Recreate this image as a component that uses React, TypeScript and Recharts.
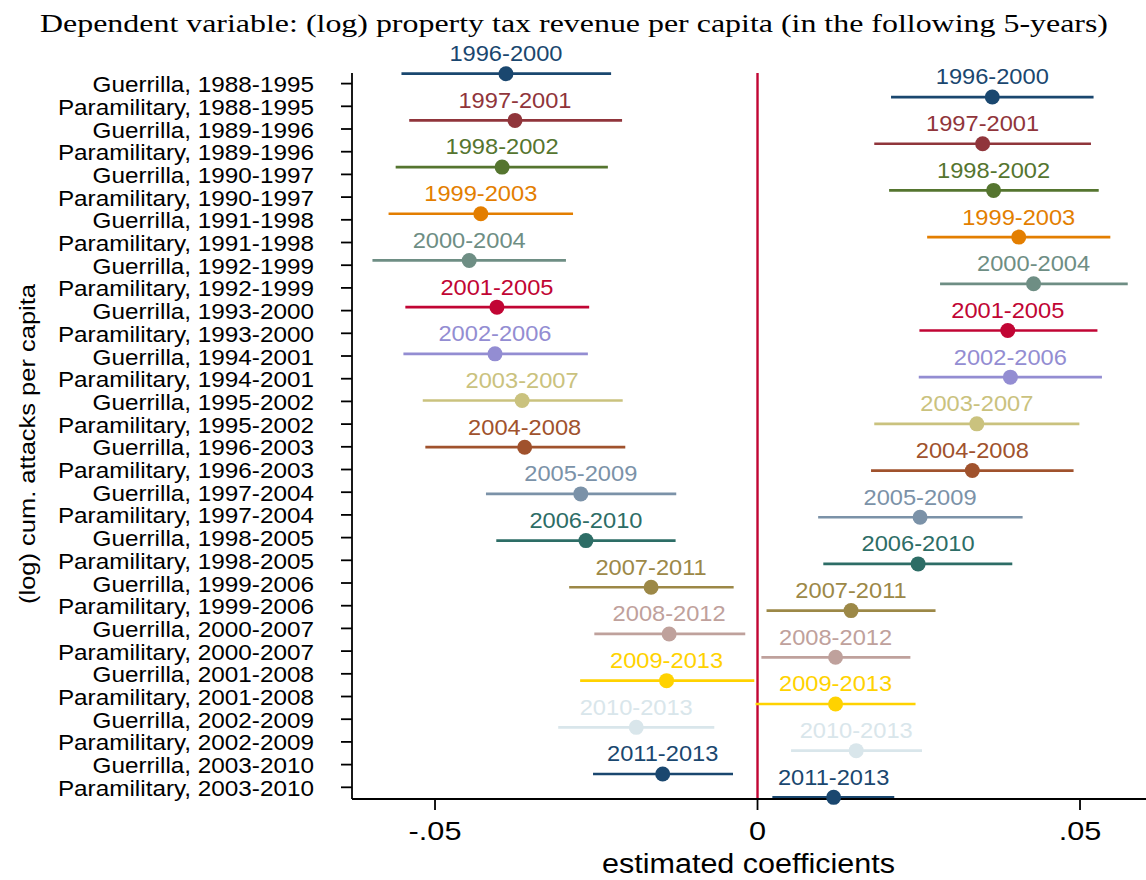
import React from 'react';
import { ScatterChart, Scatter, XAxis, YAxis, ReferenceLine, ErrorBar } from 'recharts';

// Estimation periods (one coefplot series each) and their colours
const estimationPeriods = [
  '1996-2000', '1997-2001', '1998-2002', '1999-2003', '2000-2004', '2001-2005',
  '2002-2006', '2003-2007', '2004-2008', '2005-2009', '2006-2010', '2007-2011',
  '2008-2012', '2009-2013', '2010-2013', '2011-2013',
];
const seriesColors = [
  '#1a476f', '#90353b', '#55752f', '#e37e00', '#6e8e84', '#c10534',
  '#938dd2', '#cac27e', '#a0522d', '#7b92a8', '#2d6d66', '#9c8847',
  '#bfa19c', '#ffd200', '#d9e6eb', '#1a476f',
];

// Guerrilla coefficients with 95% CI
const guerrillaCoef = [-0.0390, -0.0376, -0.0396, -0.0429, -0.0447, -0.0404, -0.0407, -0.0365, -0.0361, -0.0274, -0.0266, -0.0165, -0.0137, -0.0141, -0.0188, -0.0147];
const guerrillaLow = [-0.0552, -0.0540, -0.0561, -0.0572, -0.0597, -0.0546, -0.0549, -0.0519, -0.0515, -0.0421, -0.0405, -0.0292, -0.0253, -0.0275, -0.0309, -0.0255];
const guerrillaHigh = [-0.0227, -0.0210, -0.0232, -0.0286, -0.0297, -0.0261, -0.0263, -0.0209, -0.0205, -0.0126, -0.0127, -0.0037, -0.0019, -0.0005, -0.0067, -0.0038];

// Paramilitary coefficients with 95% CI
const paraCoef = [0.0364, 0.0349, 0.0366, 0.0405, 0.0428, 0.0388, 0.0392, 0.0340, 0.0333, 0.0252, 0.0249, 0.0145, 0.0121, 0.0121, 0.0153, 0.0118];
const paraLow = [0.0207, 0.0181, 0.0204, 0.0263, 0.0283, 0.0251, 0.0250, 0.0181, 0.0176, 0.0094, 0.0102, 0.0014, 0.0006, -0.0003, 0.0052, 0.0023];
const paraHigh = [0.0521, 0.0517, 0.0529, 0.0547, 0.0574, 0.0527, 0.0534, 0.0499, 0.0490, 0.0411, 0.0395, 0.0276, 0.0237, 0.0245, 0.0255, 0.0212];

// Attack periods (y-axis categories)
const attackPeriods = [
  '1988-1995', '1989-1996', '1990-1997', '1991-1998', '1992-1999', '1993-2000',
  '1994-2001', '1995-2002', '1996-2003', '1997-2004', '1998-2005', '1999-2006',
  '2000-2007', '2001-2008', '2002-2009', '2003-2010',
];
const yTickLabels = attackPeriods.flatMap((p) => [`Guerrilla, ${p}`, `Paramilitary, ${p}`]);

const xTicks = [-0.05, 0, 0.05];
const xTickLabels = ['-.05', '0', '.05'];

const titleText = 'Dependent variable: (log) property tax revenue per capita (in the following 5-years)';
const xTitle = 'estimated coefficients';
const yTitle = '(log) cum. attacks per capita';

const SANS = '"Liberation Sans", Arial, Helvetica, sans-serif';
const SERIF = '"Liberation Serif", "Times New Roman", serif';

const seriesData = estimationPeriods.map((period, k) => ({
  period,
  color: seriesColors[k],
  points: [
    { x: guerrillaCoef[k], y: 2 * k, err: [guerrillaCoef[k] - guerrillaLow[k], guerrillaHigh[k] - guerrillaCoef[k]] },
    { x: paraCoef[k], y: 2 * k + 1, err: [paraCoef[k] - paraLow[k], paraHigh[k] - paraCoef[k]] },
  ],
}));

const labelRows = yTickLabels.map((_, i) => ({ x: 0, y: i }));
const labelTicks = yTickLabels.map((_, i) => i);

const makeShape = (color: string, period: string) => (props: any) => {
  const cx = props.cx ?? props.x + (props.width || 0) / 2;
  const cy = props.cy ?? props.y + (props.height || 0) / 2;
  return (
    <g>
      <circle cx={cx} cy={cy} r={7.5} fill={color} />
      <text
        x={cx}
        y={cy - 12.6}
        textAnchor="middle"
        fontFamily={SANS}
        fontSize={21.5}
        fill={color}
        transform={`translate(${cx},0) scale(1.1,1) translate(${-cx},0)`}
      >
        {period}
      </text>
    </g>
  );
};

const YTick = (props: any) => {
  const { x, y, payload } = props;
  return (
    <g transform={`translate(${x},${y})`}>
      <text textAnchor="end" y={8.5} fontFamily={SANS} fontSize={21.5} fill="#000" transform="scale(1.13,1)">
        {yTickLabels[payload.value]}
      </text>
    </g>
  );
};

const XTick = (props: any) => {
  const { x, y, payload } = props;
  const idx = xTicks.indexOf(payload.value);
  return (
    <g transform={`translate(${x},${y})`}>
      <text textAnchor="middle" y={30} fontFamily={SANS} fontSize={26} fill="#000" transform="scale(1.18,1)">
        {xTickLabels[idx]}
      </text>
    </g>
  );
};

export default function App() {
  return (
    <div style={{ position: 'absolute', left: 0, top: 0, width: 1146, height: 880, background: '#fff' }}>
      <ScatterChart width={1146} height={880} margin={{ top: 73, right: 0, bottom: 0, left: 0 }}>
        <XAxis
          type="number"
          dataKey="x"
          domain={[-0.06287, 0.06023]}
          ticks={xTicks}
          interval={0}
          height={81}
          tickSize={11}
          tickMargin={0}
          tick={<XTick />}
          axisLine={{ stroke: '#000', strokeWidth: 1.8 }}
          tickLine={{ stroke: '#000', strokeWidth: 1.8 }}
        />
        <YAxis
          yAxisId="pts"
          type="number"
          dataKey="y"
          domain={[-0.03, 31.07]}
          reversed
          hide
        />
        <YAxis
          yAxisId="lab"
          type="number"
          dataKey="y"
          domain={[-0.467, 31.515]}
          reversed
          ticks={labelTicks}
          interval={0}
          width={352}
          tickSize={11}
          tickMargin={27}
          tick={<YTick />}
          axisLine={{ stroke: '#000', strokeWidth: 1.8 }}
          tickLine={{ stroke: '#000', strokeWidth: 1.8 }}
        />
        <ReferenceLine x={0} yAxisId="pts" stroke="#c10534" strokeWidth={2.4} />
        <Scatter
          yAxisId="lab"
          data={labelRows}
          shape={() => <g />}
          isAnimationActive={false}
        />
        {seriesData.map((s) => (
          <Scatter
            key={s.period}
            yAxisId="pts"
            data={s.points}
            fill={s.color}
            shape={makeShape(s.color, s.period)}
            isAnimationActive={false}
          >
            <ErrorBar dataKey="err" direction="x" width={0} stroke={s.color} strokeWidth={2.7} isAnimationActive={false} />
          </Scatter>
        ))}
      </ScatterChart>
      <svg width={1146} height={880} style={{ position: 'absolute', left: 0, top: 0, pointerEvents: 'none' }}>
        <text x={574} y={31.7} textAnchor="middle" fontFamily={SERIF} fontSize={25} fill="#000" textLength={1068} lengthAdjust="spacingAndGlyphs">
          {titleText}
        </text>
        <text x={748.5} y={873} textAnchor="middle" fontFamily={SANS} fontSize={27} fill="#000" textLength={293} lengthAdjust="spacingAndGlyphs">
          {xTitle}
        </text>
        <text transform="translate(35,444) rotate(-90)" x={0} y={0} textAnchor="middle" fontFamily={SANS} fontSize={22} fill="#000" textLength={320} lengthAdjust="spacingAndGlyphs">
          {yTitle}
        </text>
      </svg>
    </div>
  );
}
